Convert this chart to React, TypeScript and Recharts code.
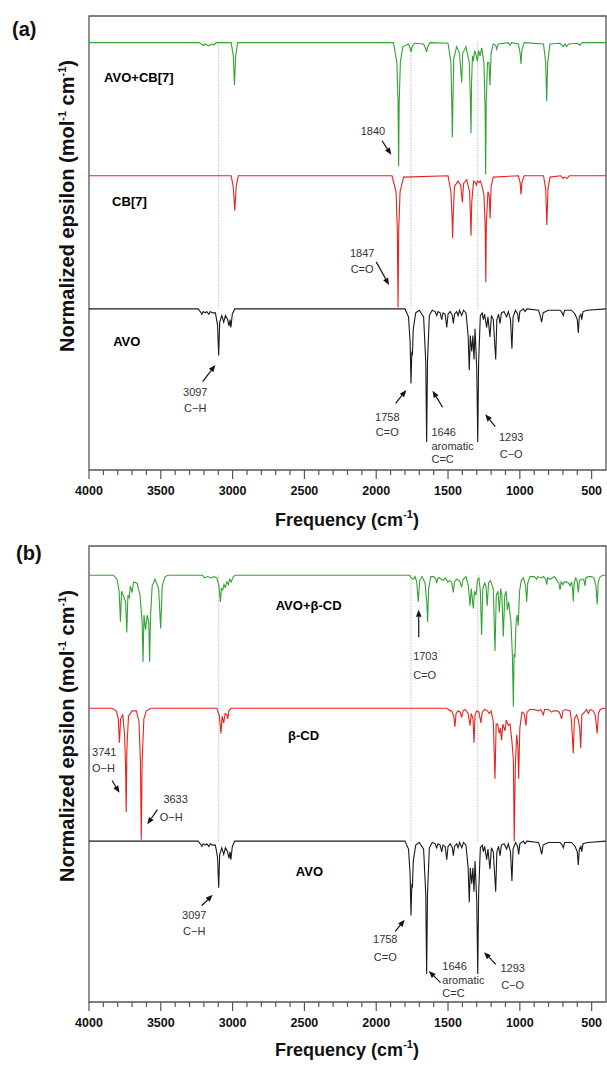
import React from 'react';
import { LineChart, Line, XAxis, YAxis, ReferenceLine, ReferenceDot, ReferenceArea } from 'recharts';

const FONT = '"Liberation Sans", Arial, sans-serif';
const FRAME = '#555';
const GREEN = '#33a333';
const RED = '#e8221e';
const BLACK = '#1a1a1a';

// frequency axis (cm-1)
const freqDomain = [400, 4000];
const majorTicks = [4000, 3500, 3000, 2500, 2000, 1500, 1000, 500];
const minorTicks = [
  3900, 3800, 3700, 3600, 3400, 3300, 3200, 3100, 2900, 2800, 2700, 2600, 2400, 2300, 2200, 2100,
  1900, 1800, 1700, 1600, 1400, 1300, 1200, 1100, 900, 800, 700, 600,
];
const allTicks = [...majorTicks, ...minorTicks].sort((a, b) => b - a);

// dotted guides at the AVO bands
const guideLines = [3097, 1758, 1293];

// spectra: [frequency, depth under the trace baseline], strongest band = 1
const avo = [
  [4000, 0], [3240, 0], [3225, 0.02], [3214, 0.04], [3205, 0.02], [3190, 0.03], [3180, 0.02], [3165, 0.04],
  [3155, 0.02], [3140, 0.03], [3120, 0.03], [3105, 0.12], [3097, 0.35], [3090, 0.1], [3075, 0.05], [3062, 0.1],
  [3050, 0.05], [3035, 0.08], [3025, 0.13], [3018, 0.08], [3012, 0.14], [3002, 0.04], [2985, 0],
  [1800, 0], [1775, 0.06], [1764, 0.25], [1758, 0.56], [1752, 0.32], [1748, 0.35], [1742, 0.15], [1725, 0.03],
  [1700, 0.01], [1670, 0.06], [1655, 0.4], [1649, 1.0], [1643, 0.4], [1630, 0.05], [1610, 0.01], [1590, 0.02],
  [1579, 0.05], [1570, 0.02], [1555, 0.03], [1544, 0.08], [1535, 0.03], [1520, 0.04], [1509, 0.14], [1500, 0.04],
  [1485, 0.02], [1470, 0.05], [1463, 0.11], [1455, 0.04], [1440, 0.02], [1430, 0.05], [1420, 0.01], [1405, 0.05],
  [1392, 0.01], [1375, 0.03], [1360, 0.2], [1352, 0.46], [1345, 0.2], [1335, 0.32], [1327, 0.2], [1319, 0.38],
  [1312, 0.15], [1300, 0.45], [1293, 1.0], [1287, 0.4], [1275, 0.05], [1262, 0.03], [1254, 0.08], [1245, 0.04],
  [1231, 0.14], [1222, 0.06], [1208, 0.21], [1198, 0.05], [1185, 0.08], [1168, 0.38], [1160, 0.08], [1148, 0.04],
  [1138, 0.11], [1128, 0.03], [1110, 0.02], [1092, 0.06], [1080, 0.02], [1065, 0.08], [1055, 0.3], [1047, 0.06],
  [1030, 0.01], [1015, 0.04], [1008, 0.1], [1000, 0.02], [975, 0], [964, 0.02], [950, 0], [870, 0.01],
  [858, 0.05], [848, 0.1], [838, 0.03], [820, 0.02], [800, 0.01], [720, 0.01], [705, 0.03], [697, 0.05],
  [688, 0.01], [640, 0.01], [615, 0.04], [600, 0.08], [593, 0.18], [586, 0.06], [575, 0.04], [569, 0.08],
  [560, 0.02], [530, 0.01], [400, 0],
];

const avoCb7 = [
  [4000, 0], [3230, 0], [3215, 0.015], [3202, 0.02], [3190, 0.01], [3170, 0.025], [3160, 0.02], [3140, 0.01],
  [3130, 0.02], [3115, 0], [3010, 0], [2995, 0.1], [2987, 0.32], [2979, 0.1], [2965, 0],
  [1880, 0], [1856, 0.15], [1848, 0.45], [1844, 0.93], [1840, 0.45], [1832, 0.15], [1815, 0.03], [1775, 0.01],
  [1765, 0.04], [1758, 0.07], [1750, 0.03], [1735, 0.005], [1670, 0.01], [1655, 0.05], [1649, 0.07], [1642, 0.03],
  [1625, 0], [1500, 0.005], [1480, 0.15], [1474, 0.45], [1470, 0.71], [1466, 0.45], [1460, 0.12], [1440, 0.03],
  [1420, 0.08], [1405, 0.3], [1398, 0.08], [1375, 0.03], [1352, 0.15], [1344, 0.45], [1340, 0.68], [1336, 0.3],
  [1330, 0.1], [1324, 0.14], [1315, 0.06], [1305, 0.09], [1296, 0.14], [1287, 0.06], [1277, 0.1], [1265, 0.04],
  [1250, 0.15], [1242, 0.5], [1238, 0.99], [1234, 0.45], [1225, 0.15], [1215, 0.15], [1208, 0.32], [1200, 0.08],
  [1185, 0.01], [1168, 0.02], [1161, 0.05], [1150, 0.01], [1080, 0], [1069, 0.02], [1058, 0], [1010, 0.01],
  [998, 0.08], [992, 0.16], [986, 0.06], [970, 0], [835, 0.01], [820, 0.15], [813, 0.44], [806, 0.15],
  [790, 0.01], [720, 0.005], [697, 0.03], [685, 0.01], [674, 0.03], [660, 0.01], [600, 0.005], [581, 0.02],
  [565, 0], [400, 0],
];

const cb7 = [
  [4000, 0], [3010, 0], [2996, 0.08], [2985, 0.26], [2975, 0.08], [2960, 0],
  [1890, 0], [1862, 0.12], [1853, 0.4], [1848, 0.99], [1843, 0.4], [1834, 0.12], [1810, 0.01], [1500, 0],
  [1480, 0.12], [1472, 0.3], [1468, 0.47], [1464, 0.3], [1455, 0.08], [1430, 0.04], [1412, 0.07], [1400, 0.2],
  [1392, 0.06], [1370, 0.03], [1350, 0.12], [1344, 0.3], [1340, 0.45], [1335, 0.2], [1322, 0.04], [1310, 0.05],
  [1303, 0.07], [1295, 0.04], [1285, 0.05], [1275, 0.04], [1265, 0.07], [1250, 0.14], [1241, 0.4], [1237, 0.8],
  [1233, 0.35], [1222, 0.12], [1213, 0.15], [1207, 0.32], [1200, 0.08], [1185, 0.01], [1010, 0], [998, 0.05],
  [992, 0.14], [985, 0.05], [970, 0], [835, 0], [820, 0.1], [812, 0.37], [804, 0.1], [790, 0.01], [715, 0],
  [700, 0.02], [690, 0.01], [670, 0.02], [655, 0], [400, 0],
];

const avoBcd = [
  [4000, 0], [3830, 0], [3805, 0.03], [3790, 0.12], [3781, 0.35], [3773, 0.12], [3762, 0.15], [3745, 0.2],
  [3737, 0.43], [3729, 0.15], [3720, 0.17], [3712, 0.08], [3700, 0.13], [3690, 0.05], [3665, 0.06], [3645, 0.15],
  [3630, 0.35], [3624, 0.65], [3617, 0.3], [3606, 0.41], [3595, 0.3], [3584, 0.35], [3578, 0.65], [3571, 0.3],
  [3560, 0.08], [3540, 0.03], [3515, 0.1], [3501, 0.4], [3490, 0.08], [3470, 0.01], [3450, 0], [3210, 0],
  [3195, 0.02], [3175, 0.01], [3150, 0.02], [3130, 0.01], [3110, 0.02], [3095, 0.08], [3085, 0.2], [3078, 0.1],
  [3069, 0.11], [3060, 0.07], [3050, 0.09], [3040, 0.05], [3030, 0.07], [3020, 0.03], [3010, 0.05], [2995, 0.01],
  [2980, 0], [1770, 0], [1755, 0.02], [1742, 0.03], [1730, 0.01], [1718, 0.05], [1707, 0.2], [1697, 0.04],
  [1680, 0.01], [1660, 0.06], [1648, 0.2], [1642, 0.35], [1635, 0.1], [1620, 0.01], [1600, 0.01], [1585, 0.03],
  [1579, 0.06], [1570, 0.02], [1560, 0.02], [1545, 0.03], [1533, 0.04], [1520, 0.02], [1500, 0.05], [1490, 0.04],
  [1475, 0.05], [1463, 0.13], [1455, 0.05], [1440, 0.03], [1420, 0.04], [1405, 0.09], [1395, 0.03], [1375, 0.01],
  [1358, 0.08], [1347, 0.23], [1338, 0.1], [1324, 0.25], [1316, 0.12], [1305, 0.15], [1296, 0.04], [1285, 0.02],
  [1275, 0.12], [1266, 0.45], [1258, 0.1], [1245, 0.06], [1236, 0.08], [1227, 0.23], [1218, 0.06], [1205, 0.04],
  [1185, 0.1], [1173, 0.57], [1164, 0.15], [1152, 0.12], [1143, 0.28], [1134, 0.1], [1125, 0.15], [1115, 0.46],
  [1105, 0.15], [1095, 0.12], [1087, 0.26], [1078, 0.2], [1062, 0.35], [1052, 0.6], [1045, 0.99], [1040, 0.6],
  [1034, 0.61], [1026, 0.35], [1018, 0.3], [1011, 0.38], [1002, 0.12], [990, 0.04], [975, 0.02], [960, 0.08],
  [952, 0.2], [945, 0.06], [930, 0.01], [900, 0.01], [890, 0.02], [883, 0.03], [875, 0.01], [850, 0.02],
  [835, 0.01], [820, 0.03], [813, 0.07], [806, 0.02], [790, 0.03], [775, 0.02], [760, 0.01], [740, 0.04],
  [728, 0.06], [720, 0.11], [712, 0.05], [700, 0.07], [690, 0.05], [675, 0.05], [660, 0.06], [650, 0.08],
  [640, 0.05], [633, 0.1], [628, 0.2], [622, 0.06], [610, 0.02], [600, 0.05], [593, 0.13], [585, 0.04],
  [570, 0.03], [555, 0.03], [546, 0.08], [540, 0.02], [525, 0.01], [500, 0.01], [485, 0.02], [470, 0.08],
  [461, 0.22], [454, 0.05], [440, 0.01], [420, 0], [400, 0],
];

const bcd = [
  [4000, 0], [3840, 0], [3810, 0.02], [3796, 0.08], [3788, 0.26], [3780, 0.08], [3765, 0.05], [3752, 0.2],
  [3745, 0.45], [3741, 0.78], [3736, 0.3], [3725, 0.06], [3700, 0.02], [3670, 0.02], [3652, 0.1], [3642, 0.4],
  [3636, 0.99], [3630, 0.4], [3618, 0.08], [3600, 0.02], [3570, 0], [3110, 0], [3092, 0.06], [3081, 0.19],
  [3073, 0.06], [3062, 0.11], [3052, 0.04], [3040, 0.05], [3034, 0.08], [3026, 0.02], [3010, 0],
  [1510, 0], [1495, 0.01], [1486, 0.02], [1475, 0.02], [1460, 0.06], [1452, 0.14], [1444, 0.04], [1430, 0.02],
  [1415, 0.03], [1405, 0.07], [1395, 0.02], [1380, 0.01], [1360, 0.04], [1347, 0.13], [1338, 0.04], [1326, 0.08],
  [1319, 0.26], [1312, 0.05], [1300, 0.02], [1285, 0.03], [1271, 0.11], [1262, 0.03], [1245, 0.01], [1225, 0.02],
  [1213, 0.04], [1200, 0.02], [1185, 0.1], [1173, 0.53], [1165, 0.12], [1155, 0.12], [1143, 0.19], [1135, 0.15],
  [1127, 0.24], [1118, 0.12], [1103, 0.17], [1094, 0.09], [1080, 0.13], [1068, 0.12], [1055, 0.25], [1045, 0.39],
  [1039, 1.0], [1032, 0.45], [1022, 0.2], [1014, 0.28], [1008, 0.53], [1000, 0.15], [985, 0.03], [970, 0.04],
  [957, 0.13], [950, 0.03], [930, 0.01], [900, 0.01], [870, 0.02], [855, 0.01], [845, 0.03], [837, 0.05],
  [828, 0.01], [800, 0.01], [780, 0.03], [765, 0.02], [740, 0.02], [725, 0.03], [709, 0.08], [700, 0.02],
  [680, 0.01], [650, 0.02], [640, 0.1], [628, 0.34], [620, 0.08], [605, 0.05], [595, 0.08], [583, 0.15],
  [576, 0.3], [568, 0.05], [550, 0.03], [535, 0.01], [523, 0.04], [510, 0.01], [490, 0.02], [475, 0.05],
  [461, 0.19], [453, 0.04], [440, 0.01], [420, 0], [400, 0],
];

const toRows = (pts: number[][], offset: number) => pts.map(([f, d]) => ({ f, v: offset - d }));

type Note = { f: number; v: number; text: string; start?: boolean; bold?: boolean };

const notesA: Note[] = [
  { f: 3895, v: 1.737, text: 'AVO+CB[7]', start: true, bold: true },
  { f: 3839, v: 0.805, text: 'CB[7]', start: true, bold: true },
  { f: 3832, v: -0.248, text: 'AVO', start: true, bold: true },
  { f: 2023, v: 1.338, text: '1840' },
  { f: 2098, v: 0.421, text: '1847' },
  { f: 2098, v: 0.3, text: 'C=O' },
  { f: 3260, v: -0.624, text: '3097' },
  { f: 3260, v: -0.744, text: 'C\u2212H' },
  { f: 1923, v: -0.812, text: '1758' },
  { f: 1923, v: -0.925, text: 'C=O' },
  { f: 1615, v: -0.925, text: '1646', start: true },
  { f: 1615, v: -1.03, text: 'aromatic', start: true },
  { f: 1615, v: -1.128, text: 'C=C', start: true },
  { f: 1060, v: -0.96, text: '1293' },
  { f: 1060, v: -1.09, text: 'C\u2212O' },
];
const arrowsA = [
  [1960, 1.263, 1895, 1.158],
  [2000, 0.353, 1911, 0.18],
  [3209, -0.547, 3120, -0.421],
  [1865, -0.709, 1790, -0.609],
  [1538, -0.739, 1608, -0.614],
  [1171, -0.885, 1241, -0.792],
];

const notesB: Note[] = [
  { f: 2700, v: 1.773, text: 'AVO+\u03b2-CD', start: true, bold: true },
  { f: 2614, v: 0.793, text: '\u03b2-CD', start: true, bold: true },
  { f: 2560, v: -0.23, text: 'AVO', start: true, bold: true },
  { f: 1743, v: 1.391, text: '1703', start: true },
  { f: 1743, v: 1.249, text: 'C=O', start: true },
  { f: 3979, v: 0.668, text: '3741', start: true },
  { f: 3979, v: 0.551, text: 'O\u2212H', start: true },
  { f: 3482, v: 0.319, text: '3633', start: true },
  { f: 3508, v: 0.182, text: 'O\u2212H', start: true },
  { f: 3267, v: -0.553, text: '3097' },
  { f: 3267, v: -0.678, text: 'C\u2212H' },
  { f: 1937, v: -0.735, text: '1758' },
  { f: 1937, v: -0.87, text: 'C=O' },
  { f: 1540, v: -0.94, text: '1646', start: true },
  { f: 1540, v: -1.045, text: 'aromatic', start: true },
  { f: 1540, v: -1.144, text: 'C=C', start: true },
  { f: 1050, v: -0.952, text: '1293' },
  { f: 1050, v: -1.082, text: 'C\u2212O' },
];
const arrowsB = [
  [1704, 1.533, 1704, 1.74],
  [3839, 0.456, 3788, 0.364],
  [3524, 0.237, 3594, 0.127],
  [3216, -0.486, 3139, -0.404],
  [1867, -0.678, 1802, -0.591],
  [1552, -1.064, 1634, -0.977],
  [1167, -0.927, 1249, -0.835],
];

const FreqTick = (props: any) => {
  const { x, y, payload } = props;
  const major = majorTicks.includes(payload.value);
  return (
    <g>
      <line x1={x} x2={x} y1={y} y2={y + (major ? 9 : 5)} stroke={FRAME} strokeWidth={1.2} />
      {major && (
        <text x={x} y={y + 21} textAnchor="middle" dominantBaseline="central" fontFamily={FONT}
          fontWeight="bold" fontSize={12.5} fill="#111">
          {payload.value}
        </text>
      )}
    </g>
  );
};

const ArrowShape = (props: any) => {
  const { x1, y1, x2, y2 } = props;
  const dx = x2 - x1;
  const dy = y2 - y1;
  const len = Math.sqrt(dx * dx + dy * dy) || 1;
  const ux = dx / len;
  const uy = dy / len;
  const bx = x2 - ux * 7;
  const by = y2 - uy * 7;
  const head = `${x2},${y2} ${bx - uy * 2.8},${by + ux * 2.8} ${bx + uy * 2.8},${by - ux * 2.8}`;
  return (
    <g>
      <line x1={x1} y1={y1} x2={bx} y2={by} stroke="#111" strokeWidth={1.2} />
      <polygon points={head} fill="#111" />
    </g>
  );
};

type Trace = { points: number[][]; offset: number; color: string };

const Panel = ({ traces, notes, arrows, yDomain, height, bottom }: any) => (
  <LineChart width={607} height={height} margin={{ top: 16, right: 1, bottom, left: 89 }}>
    <XAxis dataKey="f" type="number" domain={freqDomain} reversed allowDataOverflow ticks={allTicks}
      interval={0} tickLine={false} tickSize={0} tickMargin={0} height={60} axisLine={false}
      tick={(p: any) => <FreqTick {...p} />} />
    <YAxis type="number" domain={yDomain} allowDataOverflow hide />
    <ReferenceArea x1={freqDomain[0]} x2={freqDomain[1]} y1={yDomain[0]} y2={yDomain[1]} fill="none"
      fillOpacity={0} stroke={FRAME} strokeWidth={1.3} strokeOpacity={1} ifOverflow="visible" />
    {guideLines.map((f) => (
      <ReferenceLine key={`g${f}`} segment={[{ x: f, y: 2 }, { x: f, y: 0 }]} stroke="#a8a8a8"
        strokeWidth={1} strokeDasharray="1 1.5" />
    ))}
    {traces.map((t: Trace, i: number) => (
      <Line key={`t${i}`} data={toRows(t.points, t.offset)} dataKey="v" type="linear" stroke={t.color}
        strokeWidth={1.1} dot={false} activeDot={false} isAnimationActive={false} />
    ))}
    {arrows.map((a: number[], i: number) => (
      <ReferenceLine key={`a${i}`} segment={[{ x: a[0], y: a[1] }, { x: a[2], y: a[3] }]}
        shape={(p: any) => <ArrowShape {...p} />} />
    ))}
    {notes.map((n: Note, i: number) => (
      <ReferenceDot key={`n${i}`} x={n.f} y={n.v} r={1}
        shape={(p: any) => (
          <text x={p.cx} y={p.cy} textAnchor={n.start ? 'start' : 'middle'} dominantBaseline="central"
            fontFamily={FONT} fontSize={n.bold ? 13 : 11} fontWeight={n.bold ? 'bold' : 'normal'}
            fill={n.bold ? '#000' : '#333'}>
            {n.text}
          </text>
        )} />
    ))}
  </LineChart>
);

const Titles = () => (
  <svg width={607} height={1065} style={{ position: 'absolute', left: 0, top: 0, pointerEvents: 'none' }}
    fontFamily={FONT} fontWeight="bold" fill="#111">
    <text x={12} y={29} fontSize={20} dominantBaseline="central">(a)</text>
    <text x={16} y={553} fontSize={20} dominantBaseline="central">(b)</text>
    {[206, 736].map((cy) => (
      <text key={cy} transform={`translate(74,${cy}) rotate(-90)`} textAnchor="middle" fontSize={20}>
        Normalized epsilon (mol<tspan dy={-8} fontSize={11}>-1</tspan>
        <tspan dy={8}> cm</tspan><tspan dy={-8} fontSize={11}>-1</tspan><tspan dy={8}>)</tspan>
      </text>
    ))}
    {[520, 1050].map((cy) => (
      <text key={cy} x={347} y={cy + 6} textAnchor="middle" fontSize={18}>
        Frequency (cm<tspan dy={-8} fontSize={11}>-1</tspan><tspan dy={8}>)</tspan>
      </text>
    ))}
  </svg>
);

export default function App() {
  const tracesA: Trace[] = [
    { points: avo, offset: 0, color: BLACK },
    { points: cb7, offset: 1, color: RED },
    { points: avoCb7, offset: 2, color: GREEN },
  ];
  const tracesB: Trace[] = [
    { points: avo, offset: 0, color: BLACK },
    { points: bcd, offset: 1, color: RED },
    { points: avoBcd, offset: 2, color: GREEN },
  ];
  return (
    <div style={{ position: 'absolute', left: 0, top: 0, width: 607, height: 1065, background: '#fff' }}>
      <div style={{ position: 'absolute', left: 0, top: 0 }}>
        <Panel traces={tracesA} notes={notesA} arrows={arrowsA} yDomain={[-1.21, 2.2]} height={530} bottom={0} />
      </div>
      <div style={{ position: 'absolute', left: 0, top: 530 }}>
        <Panel traces={tracesB} notes={notesB} arrows={arrowsB} yDomain={[-1.21, 2.22]} height={535} bottom={3} />
      </div>
      <Titles />
    </div>
  );
}
